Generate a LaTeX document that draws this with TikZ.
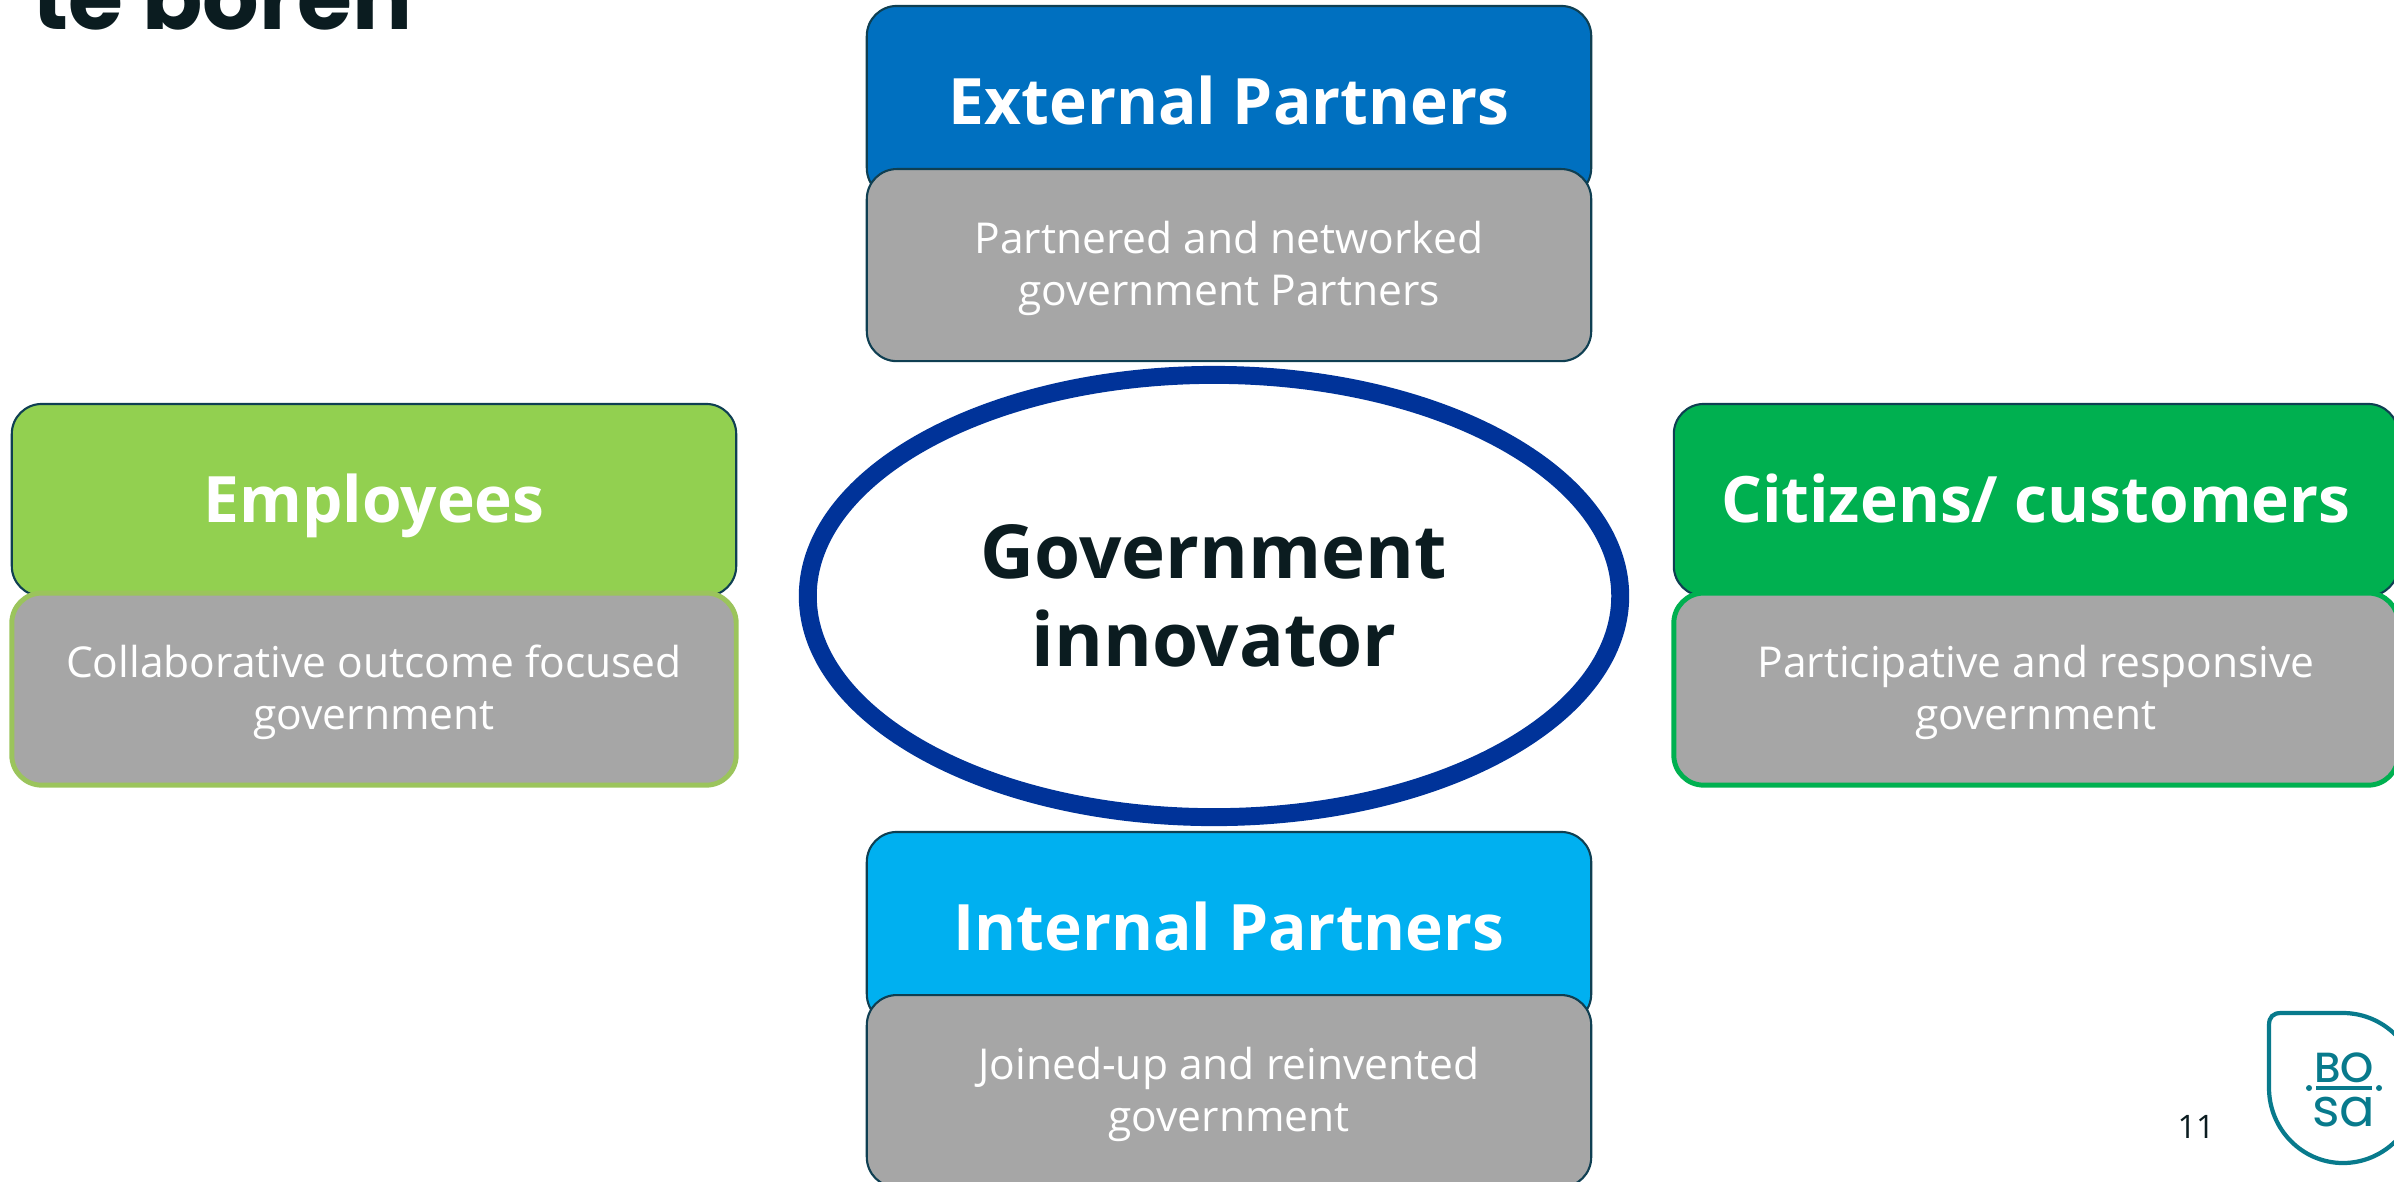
\documentclass[tikz,border=0pt]{standalone}
\usepackage{fontspec}
\setmainfont{Open Sans}
\newfontfamily\titlefont{Poppins}
\newfontfamily\logofont{Poppins Medium}
\usetikzlibrary{shapes.geometric}

\definecolor{inkdark}{HTML}{0B1C20}
\definecolor{boxline}{HTML}{0F3F52}
\definecolor{extblue}{HTML}{0070C0}
\definecolor{intblue}{HTML}{00B0F0}
\definecolor{empgreen}{HTML}{92D050}
\definecolor{citgreen}{HTML}{00B050}
\definecolor{descgray}{HTML}{A6A6A6}
\definecolor{empline}{HTML}{9BC45C}
\definecolor{ovalblue}{HTML}{003399}
\definecolor{logoteal}{HTML}{087A8C}

\tikzstyle{head} = [rectangle,rounded corners=0.3cm, minimum width=7.24cm,minimum height=1.92cm,text centered, draw=boxline,line width=0.6pt,text=white,text height=0.58cm,text depth=0.13cm,font=\fontsize{18.2}{22}\selectfont\bfseries]
\tikzstyle{desc} = [rectangle,rounded corners=0.3cm, minimum width=7.24cm,minimum height=1.92cm,align=center, draw=boxline,line width=0.6pt,fill=descgray,text=white,text height=1cm,text depth=0.2cm,font=\fontsize{12.1}{14.8}\selectfont]
\tikzstyle{oval} = [ellipse,minimum width=8.12cm,minimum height=4.42cm,align=center,draw=ovalblue,line width=5.1pt,fill=white,text=inkdark,font=\fontsize{21.2}{25}\selectfont\bfseries]
\tikzstyle{logoline} = [logoteal,line width=1.2pt]

\begin{document}
\begin{tikzpicture}[x=0.01cm,y=-0.01cm,node distance=1.63cm]
	\useasboundingbox (0,0) rectangle (2394,1181);
	\node (title) [anchor=base west,inner sep=0pt,text=inkdark,font=\titlefont\fontsize{25.3}{30}\selectfont\bfseries] at (32,29) {te boren};

	\node (external) [head, fill=extblue] at (1229,102) {External Partners};
	\node (externaldesc) [desc, below of=external] {Partnered and networked\\government Partners};

	\node (employees) [head, fill=empgreen] at (374,500) {Employees};
	\node (employeesdesc) [desc, below of=employees, yshift=-0.26cm, draw=empline, line width=1.4pt] {Collaborative outcome focused\\government};

	\node (citizens) [head, fill=citgreen] at (2036,500) {Citizens/ customers};
	\node (citizensdesc) [desc, below of=citizens, yshift=-0.26cm, draw=citgreen, line width=1.4pt] {Participative and responsive\\government};

	\node (internal) [head, fill=intblue] at (1229,928) {Internal Partners};
	\node (internaldesc) [desc, below of=internal] {Joined-up and reinvented\\government};

	\node (innovator) [oval] at (1214,596) {Government\\innovator};

	\node (pagenum) [text=inkdark,font=\fontsize{9.2}{11}\selectfont] at (2196,1127) {11};

	% logo
	\draw [logoline] (2343,1013) -- (2281,1013) .. controls (2273,1013) and (2269,1017) .. (2269,1025) -- (2269,1088) .. controls (2269,1129) and (2302,1163) .. (2343,1163) .. controls (2384,1163) and (2418,1129) .. (2418,1088) .. controls (2418,1047) and (2384,1013) .. (2343,1013) -- cycle;
	\draw [logoline] (2316,1088) -- (2372,1088);
	\fill [logoteal] (2309,1088) circle (0.03cm);
	\fill [logoteal] (2379,1088) circle (0.03cm);
	\node (logobo) [anchor=base,text=logoteal,inner sep=0pt,font=\logofont\fontsize{12}{12}\selectfont] at (2344,1082) {BO};
	\node (logosa) [anchor=base,text=logoteal,inner sep=0pt,font=\titlefont\fontsize{15}{15}\selectfont] at (2344,1126) {sa};
\end{tikzpicture}
\end{document}
